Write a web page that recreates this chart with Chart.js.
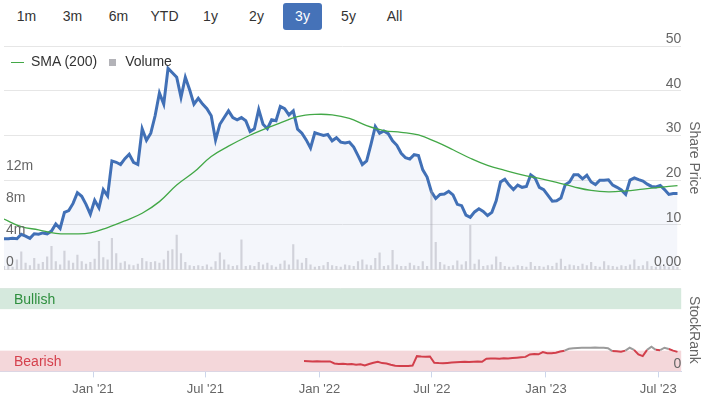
<!DOCTYPE html>
<html>
<head>
<meta charset="utf-8">
<script src="https://cdn.jsdelivr.net/npm/chart.js@4.4.0/dist/chart.umd.min.js"></script>
<style>
  body { margin: 0; width: 710px; height: 393px; background: #fff; position: relative; overflow: hidden;
         font-family: "Liberation Sans", Arial, sans-serif; }
  #ranges { position: absolute; left: 7px; top: 3px; display: flex; z-index: 2; }
  #ranges span { width: 39px; height: 27px; line-height: 27px; margin-right: 7px; text-align: center;
                 font-size: 14px; color: #333; border-radius: 3px; }
  #ranges span.on { background: #4572b8; color: #fff; }
  #legend { position: absolute; left: 11px; top: 53px; font-size: 14px; color: #333; z-index: 2; white-space: nowrap; }
  #legend .line { display: inline-block; width: 13px; height: 1px; background: #43a847; vertical-align: middle; margin-right: 7px; }
  #legend .sq { display: inline-block; width: 7px; height: 7px; background: #b3b3b8; margin: 0 9px 0 12px; vertical-align: middle; }
  #priceChart { position: absolute; left: 0; top: 30px; }
  #rankChart { position: absolute; left: 0; top: 280px; }
</style>
</head>
<body>
<div id="ranges"></div>
<div id="legend"><span class="line"></span>SMA (200)<span class="sq"></span>Volume</div>
<canvas id="priceChart" width="710" height="250"></canvas>
<canvas id="rankChart" width="710" height="121"></canvas>
<script>
// range selector buttons
const rangeButtons = ['1m', '3m', '6m', 'YTD', '1y', '2y', '3y', '5y', 'All'];
const activeRange = '3y';

// time axis: weekly points from Aug 2020
const DAY = 86400000;
const startDate = Date.UTC(2020, 7, 4);
const endDate = Date.UTC(2023, 7, 7);
const tickDates = [Date.UTC(2021, 0, 1), Date.UTC(2021, 6, 1), Date.UTC(2022, 0, 1),
                   Date.UTC(2022, 6, 1), Date.UTC(2023, 0, 1), Date.UTC(2023, 6, 1)];
const monthNames = ['Jan','Feb','Mar','Apr','May','Jun','Jul','Aug','Sep','Oct','Nov','Dec'];
const priceStepDays = 7;

// share price, one value per week
const sharePrice = [
  6.9, 6.9, 7.0, 6.9, 7.9, 7.5, 7.0, 8.0, 7.9, 8.2, 8.0, 8.6, 10.2, 9.2, 12.8, 13.2, 14.8, 17.2, 16.4, 14.6,
  12.4, 15.5, 13.8, 17.9, 16.5, 24.3, 24.0, 23.5, 24.8, 25.8, 24.0, 23.5, 31.5, 28.9, 30.5, 34.4, 39.5, 37.0, 45.0, 44.0,
  43.0, 38.5, 43.0, 40.2, 37.0, 38.3, 37.0, 36.0, 34.4, 29.0, 32.5, 34.0, 35.5, 34.0, 33.5, 34.0, 33.3, 30.9, 31.5, 35.8,
  32.5, 31.5, 33.5, 33.3, 36.5, 36.0, 34.6, 35.5, 31.4, 30.5, 29.0, 27.2, 30.6, 30.3, 30.0, 30.2, 28.8, 29.5, 28.5, 28.3,
  28.5, 27.4, 25.5, 23.5, 24.3, 28.0, 32.0, 30.5, 31.0, 30.4, 28.8, 27.8, 26.0, 25.0, 24.7, 25.7, 25.5, 22.3, 20.7, 17.4,
  15.9, 16.8, 16.9, 17.5, 16.7, 14.6, 14.3, 12.2, 11.7, 12.9, 13.6, 13.0, 12.1, 12.8, 15.4, 19.6, 20.2, 18.9, 17.9, 18.9,
  18.4, 18.6, 21.2, 20.5, 18.4, 17.9, 16.6, 15.3, 15.4, 16.0, 19.0, 19.6, 21.2, 21.2, 20.3, 21.1, 19.6, 19.0, 20.0, 20.0,
  20.1, 18.9, 18.4, 17.8, 16.8, 20.0, 20.5, 20.1, 19.8, 19.1, 18.6, 18.5, 18.8, 17.9, 16.8, 17.0, 17.0
];

// weekly volume, millions
const volume = [
  0.4, 0.6, 0.3, 1.2, 2.2, 0.8, 0.5, 1.4, 0.7, 0.9, 1.6, 2.9, 1.0, 0.6, 2.3, 1.1, 0.8, 1.8, 1.0, 0.7,
  0.9, 1.3, 3.5, 1.5, 1.2, 3.9, 2.0, 0.8, 1.0, 0.6, 0.5, 0.7, 1.4, 1.0, 0.9, 1.0, 0.8, 1.2, 2.3, 2.5,
  4.3, 2.0, 0.9, 0.5, 0.4, 0.5, 0.4, 0.6, 0.3, 1.0, 2.1, 1.2, 0.6, 0.4, 0.5, 3.7, 0.4, 0.5, 0.4, 0.9,
  0.6, 0.8, 0.5, 0.3, 0.7, 1.1, 0.6, 3.1, 1.2, 0.8, 1.4, 0.6, 0.3, 0.4, 0.5, 0.9, 0.5, 0.4, 0.3, 0.6,
  0.5, 0.4, 1.0, 1.2, 0.6, 0.5, 1.4, 2.1, 0.4, 0.5, 2.4, 0.6, 0.4, 0.4, 0.8, 0.5, 0.4, 1.0, 0.4, 9.8,
  3.4, 0.9, 0.6, 0.4, 0.5, 1.1, 0.6, 1.0, 5.5, 0.7, 1.2, 0.4, 0.5, 0.6, 1.6, 0.9, 0.4, 0.3, 0.3, 0.5,
  0.4, 0.3, 0.9, 0.4, 0.4, 0.3, 0.5, 0.4, 0.8, 1.3, 0.4, 0.6, 0.5, 0.4, 0.7, 0.5, 0.9, 0.4, 0.3, 1.0,
  0.5, 0.4, 0.3, 0.5, 0.4, 0.6, 1.2, 0.4, 0.5, 1.0, 0.4, 0.3, 0.5, 0.4, 0.3, 0.4, 0.3
];

// 200 day moving average, one value every 4 weeks
const smaStepDays = 28;
const sma200 = [
  11.3, 9.6, 8.9, 8.1, 8.0, 8.2, 9.4, 10.9, 12.6, 15.2, 18.9, 21.8, 25.3, 27.6, 29.6, 31.3, 32.8, 34.2, 34.7, 34.6,
  33.8, 32.2, 31.1, 30.7, 30.1, 28.6, 26.8, 24.9, 23.3, 22.2, 21.2, 20.4, 19.5, 18.5, 17.7, 17.4, 17.6, 18.0, 18.4, 18.8
];

// StockRank, weekly, starting at week 70 (Dec 2021)
const rankStartWeek = 70;
const stockRank = [
  12.4, 12.2, 12.0, 12.3, 12.0, 11.8, 12.0, 9.6, 9.0, 9.2, 8.6, 8.8, 8.0, 8.6, 7.2, 9.0, 10.5, 11.7, 10.0, 9.6,
  8.0, 6.8, 6.4, 6.4, 6.6, 7.0, 18.4, 18.0, 17.8, 18.0, 10.4, 10.0, 9.8, 10.2, 10.6, 11.0, 11.4, 11.6, 11.4, 11.6,
  11.8, 11.6, 15.3, 15.6, 15.5, 15.2, 15.8, 15.6, 16.0, 16.5, 17.0, 17.5, 20.5, 21.0, 20.6, 23.3, 22.0, 22.0, 22.5, 24.0,
  25.0, 27.3, 28.0, 28.2, 28.5, 28.6, 28.5, 28.8, 28.6, 28.5, 28.0, 24.5, 24.2, 23.8, 25.0, 28.5, 26.0, 20.5, 18.4, 26.0,
  29.8, 26.0, 25.5, 28.5, 27.0, 25.0, 23.5
];
const neutralFrom = 26; // rank above this is drawn grey

const priceTicks = [0, 10, 20, 30, 40, 50];
const volumeTicks = [0, 4, 8, 12];
const bearishBand = [0, 25];
const bullishBand = [75, 100];

// buttons
const rangesDiv = document.getElementById('ranges');
rangeButtons.forEach(r => {
  const s = document.createElement('span');
  s.textContent = r;
  if (r === activeRange) s.className = 'on';
  rangesDiv.appendChild(s);
});

const pricePts = sharePrice.map((v, i) => ({x: startDate + i * priceStepDays * DAY, y: v}));
const volumePts = volume.map((v, i) => ({x: startDate + i * priceStepDays * DAY, y: v}));
const smaPts = sma200.map((v, i) => ({x: startDate + i * smaStepDays * DAY, y: v}));
const rankPts = stockRank.map((v, i) => ({x: startDate + (rankStartWeek + i) * priceStepDays * DAY, y: v}));

const FONT = '"Liberation Sans", Arial, sans-serif';
Chart.defaults.font.family = FONT;
Chart.defaults.color = '#666';

function dateLabel(v) {
  const d = new Date(v);
  return monthNames[d.getUTCMonth()] + " '" + String(d.getUTCFullYear()).slice(2);
}

new Chart(document.getElementById('priceChart'), {
  type: 'line',
  data: {
    datasets: [
      {
        type: 'line', label: 'SMA (200)', data: smaPts, yAxisID: 'price', order: 1,
        borderColor: '#43a847', borderWidth: 1.3, pointRadius: 0, tension: 0.4
      },
      {
        type: 'bar', label: 'Volume', data: volumePts, yAxisID: 'vol', order: 2,
        backgroundColor: 'rgba(160,160,172,0.42)', barThickness: 1.5
      },
      {
        type: 'line', label: 'Price', data: pricePts, yAxisID: 'price', order: 3,
        borderColor: '#4170b6', borderWidth: 3, pointRadius: 0, tension: 0,
        fill: 'origin', backgroundColor: 'rgba(70,110,190,0.06)'
      }
    ]
  },
  options: {
    responsive: false,
    animation: false,
    layout: { autoPadding: false, padding: { top: 16, bottom: 7, left: 0, right: 4 } },
    plugins: { legend: { display: false }, tooltip: { enabled: false } },
    scales: {
      x: { type: 'linear', min: startDate, max: endDate, display: false, offset: false },
      vol: {
        position: 'left', min: 0, max: 27.8,
        afterBuildTicks: s => { s.ticks = volumeTicks.map(v => ({value: v})); },
        grid: { display: false, drawTicks: false }, border: { display: false },
        ticks: { mirror: true, padding: 2, labelOffset: -7, z: 1, font: { size: 14 },
                 callback: v => v === 0 ? '0' : v + 'm' }
      },
      price: {
        position: 'right', min: 0, max: 50,
        afterBuildTicks: s => { s.ticks = priceTicks.map(v => ({value: v})); },
        grid: { color: '#e6e6e6', drawTicks: false }, border: { display: false },
        ticks: { mirror: true, padding: 0, labelOffset: -7, z: 1, font: { size: 14 },
                 callback: v => v === 0 ? '0.00' : String(v) },
        title: { display: true, text: 'Share Price', font: { size: 14 }, padding: { top: 4, bottom: 4 } }
      }
    }
  }
});

// coloured Bullish / Bearish zones
const bandPlugin = {
  id: 'bands',
  beforeDatasetsDraw(chart) {
    const {ctx, chartArea: a} = chart;
    const rank = chart.scales.rank;
    const draw = (band, fillCol, text, textCol) => {
      const yTop = rank.getPixelForValue(band[1]);
      const yBot = rank.getPixelForValue(band[0]);
      ctx.save();
      ctx.fillStyle = fillCol;
      ctx.fillRect(a.left, yTop, a.right - a.left, yBot - yTop);
      ctx.fillStyle = textCol;
      ctx.font = '14px ' + FONT;
      ctx.textBaseline = 'middle';
      ctx.fillText(text, a.left + 14, (yTop + yBot) / 2 + 1);
      ctx.restore();
    };
    draw(bullishBand, '#d5e9dd', 'Bullish', '#2e8f3e');
    draw(bearishBand, '#f4d7da', 'Bearish', '#d5414d');
  }
};

new Chart(document.getElementById('rankChart'), {
  type: 'line',
  data: {
    datasets: [{
      label: 'StockRank', data: rankPts, yAxisID: 'rank',
      borderColor: '#d23f4b', borderWidth: 2, pointRadius: 0, tension: 0,
      segment: {
        borderColor: c => (c.p0.parsed.y + c.p1.parsed.y) / 2 > neutralFrom ? '#9b9b9b' : undefined
      }
    }]
  },
  options: {
    responsive: false,
    animation: false,
    layout: { autoPadding: false, padding: { top: 8, bottom: 0, left: 0, right: 4 } },
    plugins: { legend: { display: false }, tooltip: { enabled: false } },
    scales: {
      x: {
        type: 'linear', min: startDate, max: endDate, offset: false,
        afterBuildTicks: s => { s.ticks = tickDates.map(v => ({value: v})); },
        grid: { drawOnChartArea: false, drawTicks: true, tickLength: 6, color: '#ccd6eb' },
        border: { display: true, color: '#ccd6eb' },
        ticks: { padding: 4, maxRotation: 0, autoSkip: false, font: { size: 13 }, callback: dateLabel }
      },
      rank: {
        position: 'right', min: 0, max: 100,
        afterBuildTicks: s => { s.ticks = [{value: 0}, {value: 100}]; },
        grid: { drawTicks: false, color: c => c.tick && c.tick.value === 100 ? '#e6e6e6' : 'rgba(0,0,0,0)' },
        border: { display: false },
        ticks: { mirror: true, padding: 0, labelOffset: -7, z: 1, font: { size: 14 },
                 callback: v => v === 0 ? '0' : '' },
        title: { display: true, text: 'StockRank', font: { size: 14 }, padding: { top: 4, bottom: 4 } }
      }
    }
  },
  plugins: [bandPlugin]
});
</script>
</body>
</html>
